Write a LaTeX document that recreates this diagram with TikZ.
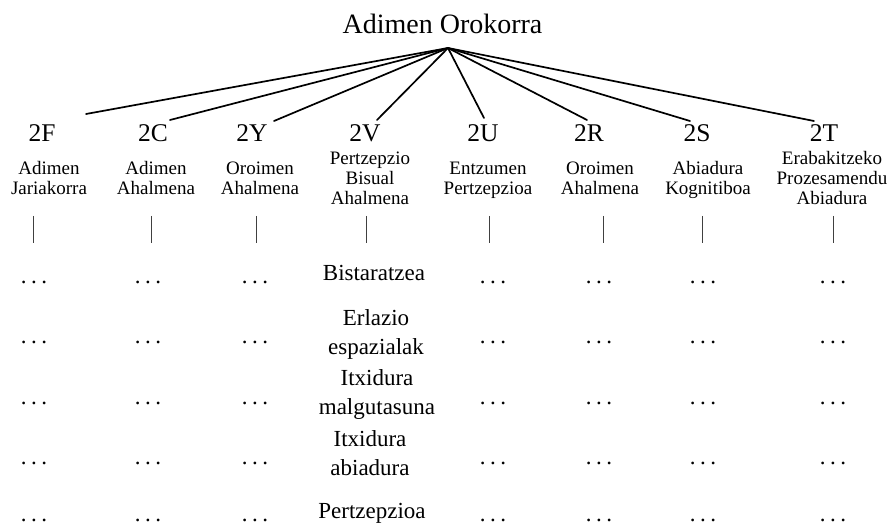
\documentclass[tikz,border=0pt]{standalone}
\usepackage{fontspec}
\setmainfont{Liberation Serif}
\newcommand\tridot{.\kern4.4pt.\kern4.4pt.}
\begin{document}
\begin{tikzpicture}[x=1pt,y=-1pt,
  titletext/.style={font=\fontsize{28}{32}\selectfont, inner sep=0pt, anchor=base},
  codetext/.style={font=\fontsize{25.5}{30}\selectfont, inner sep=0pt, anchor=base},
  labtext/.style={font=\fontsize{19}{20}\selectfont, inner sep=0pt, align=center},
  subtext/.style={font=\fontsize{23}{29.5}\selectfont, inner sep=0pt, align=center},
  subone/.style={font=\fontsize{23}{29.5}\selectfont, inner sep=0pt, anchor=base},
  dotstext/.style={font=\fontsize{23}{26}\selectfont, inner sep=0pt, anchor=base},
  fanline/.style={line width=1.7pt, line cap=round},
  barline/.style={line width=0.9pt, black!75}]
\useasboundingbox (0,0) rectangle (891,526);

% title
\node[titletext] (top) at (442.5,34) {Adimen Orokorra};
\coordinate (apex) at (448,48);

% codes
\node[codetext] (cF) at (42,142) {2F};
\node[codetext] (cC) at (153,142) {2C};
\node[codetext] (cY) at (252,142) {2Y};
\node[codetext] (cV) at (365,142) {2V};
\node[codetext] (cU) at (483,142) {2U};
\node[codetext] (cR) at (589,142) {2R};
\node[codetext] (cS) at (697,142) {2S};
\node[codetext] (cT) at (824,142) {2T};

% fan line ends
\coordinate (eF) at (86,114);
\coordinate (eC) at (170,120);
\coordinate (eY) at (274,121);
\coordinate (eV) at (377,120);
\coordinate (eU) at (484,118);
\coordinate (eR) at (587,120);
\coordinate (eS) at (690,121);
\coordinate (eT) at (814,121);
\foreach \e in {eF,eC,eY,eV,eU,eR,eS,eT}
  \draw[fanline] (apex) -- (\e);

% labels
\node[labtext] (lF) at (49,181) {\strut Adimen\\\strut Jariakorra};
\node[labtext] (lC) at (156,181) {\strut Adimen\\\strut Ahalmena};
\node[labtext] (lY) at (260,181) {\strut Oroimen\\\strut Ahalmena};
\node[labtext] (lV) at (370,181) {\strut Pertzepzio\\\strut Bisual\\\strut Ahalmena};
\node[labtext] (lU) at (488,181) {\strut Entzumen\\\strut Pertzepzioa};
\node[labtext] (lR) at (600,181) {\strut Oroimen\\\strut Ahalmena};
\node[labtext] (lS) at (708,181) {\strut Abiadura\\\strut Kognitiboa};
\node[labtext] (lT) at (832,181) {\strut Erabakitzeko\\\strut Prozesamendu\\\strut Abiadura};

% bars
\foreach \x [count=\i] in {33,151,256,366,489,603,702,833}{
  \coordinate (bt\i) at (\x,216);
  \coordinate (bb\i) at (\x,243);
  \draw[barline] (bt\i) -- (bb\i);
}

% 2V sub-abilities
\node[subone] (s1) at (374,281) {Bistaratzea};
\node[subtext] (s2) at (376,333.9) {\strut Erlazio\\\strut espazialak};
\node[subtext] (s3) at (377,393.9) {\strut Itxidura\\\strut malgutasuna};
\node[subtext] (s4) at (370,454.9) {\strut Itxidura\\\strut abiadura};
\node[subone] (s5) at (372,518) {Pertzepzioa};

% dots
\foreach \y [count=\r] in {282,342,403,463,520}{
  \foreach \x [count=\c] in {34,148,255,493,599,703,833}{
    \node[dotstext] (d\r-\c) at (\x,\y+1.2) {\tridot};
  }
}
\end{tikzpicture}
\end{document}
